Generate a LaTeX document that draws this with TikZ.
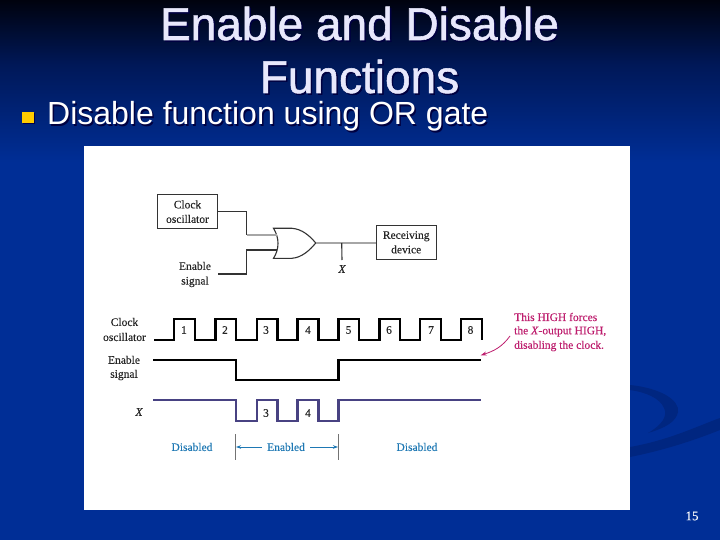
\documentclass[tikz,border=0pt]{standalone}
\usepackage{fontspec}
\setmainfont{Liberation Serif}[FakeBold=0.15]
\newfontfamily\arialfont{Liberation Sans}
\newfontfamily\titlefont{Liberation Sans}[FakeBold=1.2]
\usetikzlibrary{arrows.meta,calc}
\definecolor{bgtop}{RGB}{0,2,14}
\definecolor{bgmid}{RGB}{0,24,88}
\definecolor{bgbot}{RGB}{0,46,150}
\definecolor{swoosh}{RGB}{0,38,128}
\definecolor{titlecol}{RGB}{232,232,252}
\definecolor{wavex}{RGB}{72,66,130}
\definecolor{annot}{RGB}{190,30,110}
\definecolor{phase}{RGB}{30,120,180}
\definecolor{bulletcol}{RGB}{255,204,0}
\pgfdeclareverticalshading{slidebg}{100bp}{
 color(0bp)=(bgbot); color(60bp)=(bgbot); color(69bp)=(bgmid); color(75bp)=(bgtop); color(100bp)=(bgtop)}
\tikzset{
 x=1pt,y=-1pt,
 small/.style={font=\fontsize{11.5}{13}\selectfont,inner sep=0pt,text=black!85},
 boxnode/.style={draw=black!80,line width=1pt,fill=white,minimum width=60pt,minimum height=34pt,inner sep=0pt,
   align=center,font=\fontsize{11.5}{14.5}\selectfont,text=black!85},
 wire/.style={draw=black!80,line width=1.1pt},
 lightwire/.style={draw=black!35,line width=1.2pt},
 clockwave/.style={draw=black,line width=2.4pt,line join=miter},
 xwave/.style={draw=wavex,line width=2.4pt,line join=miter},
 phasetext/.style={small,text=phase},
 annottext/.style={small,text=annot},
 phasetick/.style={draw=black!55,line width=.8pt},
 phasearrow/.style={draw=phase,line width=.8pt,-{Stealth[length=5pt,width=3.5pt]}},
 titletext/.style={font=\titlefont\fontsize{46}{46}\selectfont,inner sep=0pt},
 bodytext/.style={font=\arialfont\fontsize{32}{32}\selectfont,inner sep=0pt},
}
\begin{document}
\begin{tikzpicture}
\useasboundingbox (0,0) rectangle (720,540);
% background
\shade[shading=slidebg] (0,0) rectangle (720,540);
\fill[swoosh] (630,447) .. controls (670,440) and (700,425) .. (720,418) -- (720,430)
  .. controls (695,440) and (665,450) .. (630,457) -- cycle;
\fill[swoosh] (630,385) .. controls (660,388) and (680,400) .. (678,412)
  .. controls (676,422) and (665,428) .. (648,433)
  .. controls (662,425) and (668,416) .. (664,408) .. controls (660,398) and (645,392) .. (630,390) -- cycle;
% title
\foreach \dx/\col in {1.5/black!75!blue, 0/titlecol}{
 \node[titletext,text=\col,anchor=base] at (359.5+\dx,40+\dx) {Enable and Disable};
 \node[titletext,text=\col,anchor=base] at (359.5+\dx,93+\dx) {Functions};
}
\node[bodytext,text=black!75!blue,anchor=base west] at (48.5,126.5) {Disable function using OR gate};
\node[bodytext,text=white,anchor=base west] at (47,125) {Disable function using OR gate};
\fill[black!70!blue] (23,113) rectangle (35,124.5);
\fill[bulletcol] (22,112) rectangle (33.5,123.5);
% white panel
\fill[white] (84,146) rectangle (630,510);
% logic diagram
\node[boxnode] (clk) at (187.5,211.7) {Clock\\oscillator};
\node[boxnode,minimum height=34pt] (recv) at (406.2,242.3) {Receiving\\device};
\node[small,align=center,font=\fontsize{11.5}{14.7}\selectfont] (en) at (195,274.5) {Enable\\signal};
\coordinate (gin1) at (276.5,235);
\coordinate (gin2) at (276.7,250);
\coordinate (gout) at (315.7,243);
\coordinate (xtap) at (341.7,243);
\coordinate (enout) at (218,274);
\path[wire,fill=white] (273.5,228.3) -- (292,228.3) .. controls (302,229) and (310,236) .. (gout)
  .. controls (310,250) and (302,257.5) .. (292,258.3) -- (273.5,258.3)
  .. controls (279.5,249) and (279.5,238) .. cycle;
\draw[wire] (clk.east |- 0,211.7) -- (246.7,211.7) -- (246.7,235);
\draw[lightwire] (246.7,235) -- (gin1);
\draw[wire] (enout) -- (246.7,274) -- (246.7,250) -- (gin2);
\draw[lightwire] (gout) -- (recv.west |- gout);
\node[small,font=\itshape\fontsize{11.5}{13}\selectfont] (xlabel) at (342,269) {X};
\draw[wire] (xtap) -- (xlabel.north |- 0,260);
% waveforms
\draw[clockwave] (154,340) -- (174,340) -- (174,319) -- (195,319) -- (195,340) -- (215.3,340) -- (215.3,319)
 -- (236,319) -- (236,340) -- (256.7,340) -- (256.7,319) -- (277.3,319) -- (277.3,340) -- (297.3,340)
 -- (297.3,319) -- (318.3,319) -- (318.3,340) -- (338.3,340) -- (338.3,319) -- (359,319) -- (359,340)
 -- (379.3,340) -- (379.3,319) -- (400,319) -- (400,340) -- (420,340) -- (420,319) -- (440.7,319)
 -- (440.7,340) -- (460.7,340) -- (460.7,319) -- (481.7,319) -- (481.7,340);
\draw[clockwave] (153,359.7) -- (236,359.7) -- (236,380) -- (338.3,380) -- (338.3,359.7) -- (481,359.7);
\draw[xwave] (153,400) -- (236,400) -- (236,420.7) -- (256.7,420.7) -- (256.7,400) -- (277.3,400)
 -- (277.3,420.7) -- (297.3,420.7) -- (297.3,400) -- (318.3,400) -- (318.3,420.7) -- (338.3,420.7)
 -- (338.3,400) -- (481,400);
\foreach \n/\px in {1/184,2/225,3/266,4/308,5/348.5,6/389,7/431,8/470.5}
 \node[small] (num\n) at (\px,330) {\n};
\node[small] (x3) at (266,413) {3};
\node[small] (x4) at (308,413) {4};
% row labels
\node[small,align=center,font=\fontsize{11.5}{15}\selectfont] (lclk) at (124.5,329.5) {Clock\\oscillator};
\node[small,align=center,font=\fontsize{11.5}{14}\selectfont] (len) at (124,368) {Enable\\signal};
\node[small,font=\itshape\fontsize{11.5}{13}\selectfont] (lx) at (139,412) {X};
% phases
\node[phasetext] (d1) at (192,447) {Disabled};
\node[phasetext] (enb) at (286,447) {Enabled};
\node[phasetext] (d2) at (417,447) {Disabled};
\coordinate (t1a) at (235.5,434); \coordinate (t1b) at (235.5,460);
\coordinate (t2a) at (338,434); \coordinate (t2b) at (338,460);
\draw[phasetick] (t1a) -- (t1b);
\draw[phasetick] (t2a) -- (t2b);
\draw[phasearrow] (enb.west) ++(-5,0) -- (236,447);
\draw[phasearrow] (enb.east) ++(5,0) -- (338,447);
% annotation
\node[annottext,anchor=west] (a1) at (514,317) {This HIGH forces};
\node[annottext,anchor=west] (a2) at (514,331.5) {the \textit{X}-output HIGH,};
\node[annottext,anchor=west] (a3) at (514,346) {disabling the clock.};
\coordinate (atarget) at (480.7,355.3);
\draw[draw=annot,line width=.8pt,-{Stealth[length=6pt,width=4pt]}] (510,336) .. controls (502,347) and (494,351) .. (atarget);
% page number
\node[inner sep=0pt,text=white,font=\fontsize{13}{13}\selectfont] (page) at (692,516) {15};
\end{tikzpicture}
\end{document}
